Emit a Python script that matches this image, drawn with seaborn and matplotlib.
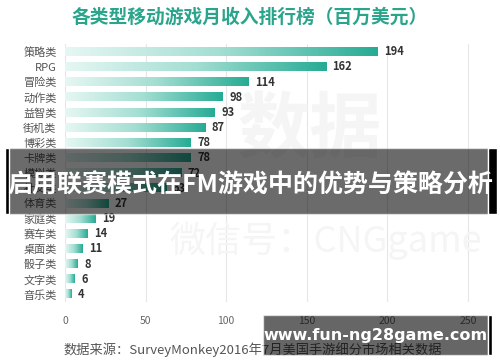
import numpy as np
import pandas as pd
import matplotlib
matplotlib.use('Agg')
import matplotlib.pyplot as plt
import seaborn as sns
from matplotlib.colors import LinearSegmentedColormap
from matplotlib.patches import Rectangle

# data (one row is hidden under the banner, value estimated)
categories = ['策略类', 'RPG', '冒险类', '动作类', '益智类', '街机类', '博彩类', '卡牌类',
              '模拟类', '社交类', '体育类', '家庭类', '赛车类', '桌面类', '骰子类', '文字类', '音乐类']
revenue = [194, 162, 114, 98, 93, 87, 78, 78, 72, 63, 27, 19, 14, 11, 8, 6, 4]
x_ticks = [0, 50, 100, 150, 200, 250]

title = '各类型移动游戏月收入排行榜（百万美元）'
source = '数据来源：SurveyMonkey2016年7月美国手游细分市场相关数据'
banner = '启用联赛模式在FM游戏中的优势与策略分析'
site = 'www.fun-ng28game.com'

sns.set_style('white')
plt.rcParams['font.family'] = ['Noto Sans CJK SC', 'DejaVu Sans']

df = pd.DataFrame({'cat': categories, 'val': revenue})

fig = plt.figure(figsize=(5, 3.62), dpi=100)
ax = fig.add_axes([0.13, 0.166, 0.822, 0.712])

sns.barplot(data=df, x='val', y='cat', orient='h', color='#26ab94', width=0.55, ax=ax)

# gradient fill for every bar
cmap = LinearSegmentedColormap.from_list('teal', ['#e6f7f3', '#a3ded2', '#26ab94'])
grad = np.linspace(0, 1, 256).reshape(1, -1)
for p in ax.patches:
    x0, y0 = p.get_x(), p.get_y()
    w, h = p.get_width(), p.get_height()
    p.set_alpha(0)
    ax.imshow(grad, cmap=cmap, aspect='auto', extent=[x0, x0 + w, y0 + h, y0], zorder=2)

for i, v in enumerate(revenue):
    ax.text(v + 4, i, str(v), va='center', ha='left', fontsize=8, fontweight='bold', color='#333333', zorder=3)

ax.set_xlim(0, 255)
ax.set_ylim(len(categories) - 0.5, -0.5)
ax.set_xticks(x_ticks)
ax.set_xticklabels([str(t) for t in x_ticks], fontsize=7.5, color='#666666')
ax.tick_params(axis='y', labelsize=8, labelcolor='#555555', length=0, pad=6)
ax.tick_params(axis='x', length=0, pad=10)
ax.set_xlabel('')
ax.set_ylabel('')
ax.grid(axis='x', color='#e6e6e6', linewidth=0.8, zorder=0)
ax.set_axisbelow(True)
for s in ax.spines.values():
    s.set_visible(False)

# faint watermarks
fig.text(0.62, 0.64, '数据', fontsize=52, fontweight='bold', color='#f5f5f5', ha='center', va='center', zorder=0)
fig.text(0.965, 0.335, '微信号：CNGgame', fontsize=26, color='#f5f5f5', ha='right', va='center', zorder=0)

fig.text(0.5, 0.953, title, fontsize=13.5, fontweight='bold', color='#2aa58c', ha='center', va='center')
fig.text(0.126, 0.033, source, fontsize=9.5, color='#555555', ha='left', va='center')

# banner overlay
fig.patches.append(Rectangle((0.01, 0.409), 0.966, 0.182, transform=fig.transFigure,
                             facecolor='black', alpha=0.58, zorder=5))
fig.patches.append(Rectangle((0.01, 0.409), 0.008, 0.182, transform=fig.transFigure,
                             facecolor='black', zorder=5))
fig.patches.append(Rectangle((0.976, 0.409), 0.018, 0.182, transform=fig.transFigure,
                             facecolor='black', zorder=5))
fig.text(0.5, 0.489, banner, fontsize=18, fontweight='bold', color='white', ha='center', va='center', zorder=6)

# site box
fig.patches.append(Rectangle((0.526, 0.019), 0.45, 0.111, transform=fig.transFigure,
                             facecolor='black', alpha=0.6, zorder=5))
fig.patches.append(Rectangle((0.976, 0.019), 0.008, 0.111, transform=fig.transFigure,
                             facecolor='black', zorder=5))
fig.text(0.752, 0.072, site, fontsize=11.5, fontweight='bold', color='white', ha='center', va='center',
         family=['DejaVu Sans'], zorder=6)

fig.savefig('out.png', dpi=100)
